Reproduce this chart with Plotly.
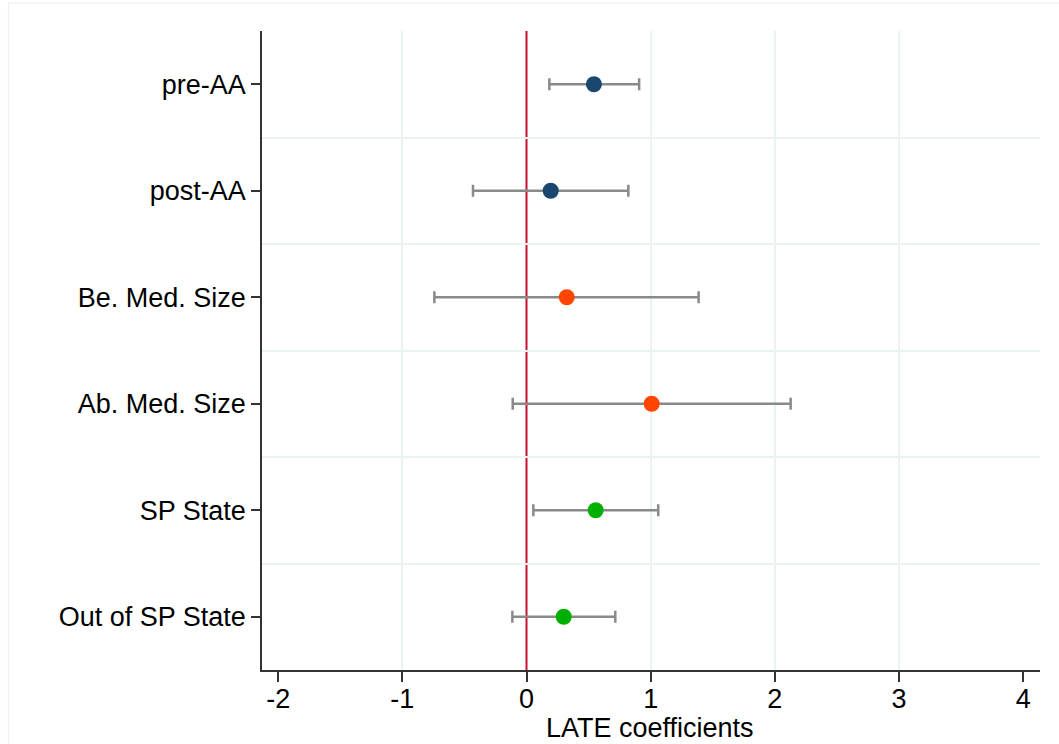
import plotly.graph_objects as go

categories = ["pre-AA", "post-AA", "Be. Med. Size", "Ab. Med. Size", "SP State", "Out of SP State"]
coef = [0.543, 0.195, 0.324, 1.008, 0.557, 0.300]
ci_low = [0.184, -0.431, -0.742, -0.111, 0.055, -0.114]
ci_high = [0.907, 0.820, 1.386, 2.127, 1.061, 0.715]
colors = ["#1a476f", "#1a476f", "#ff4500", "#ff4500", "#00b000", "#00b000"]
x_ticks = [-2, -1, 0, 1, 2, 3, 4]
x_title = "LATE coefficients"

ypos = list(range(len(categories)))

fig = go.Figure()
fig.add_trace(go.Scatter(
    x=coef, y=ypos, mode="markers",
    marker=dict(color=colors, size=16, line=dict(width=0)),
    error_x=dict(type="data", symmetric=False,
                 array=[h - c for h, c in zip(ci_high, coef)],
                 arrayminus=[c - l for c, l in zip(coef, ci_low)],
                 color="#8a8a8a", thickness=2.5, width=6),
    showlegend=False, hoverinfo="skip",
))

font = dict(family="Liberation Sans, Arial, sans-serif", size=27, color="#000000")

fig.update_layout(
    width=1059, height=744,
    margin=dict(l=262, r=19, t=31, b=74),
    paper_bgcolor="white", plot_bgcolor="white",
    font=font,
    xaxis=dict(
        range=[-2.13, 4.135], tickvals=x_ticks, ticktext=[str(v) for v in x_ticks],
        showgrid=False, zeroline=False, automargin=False,
        showline=True, linecolor="#333333", linewidth=1.5,
        ticks="outside", ticklen=10, tickwidth=1.5, tickcolor="#333333",
        minor=dict(tickmode="array", tickvals=[-1, 1, 2, 3], showgrid=True,
                   gridcolor="#eaf2f3", gridwidth=2, ticks=""),
        tickfont=font,
        ticklabelstandoff=-6,
    ),
    yaxis=dict(
        range=[5.5, -0.5], tickvals=ypos, ticktext=categories,
        showgrid=False, zeroline=False, automargin=False,
        showline=True, linecolor="#333333", linewidth=1.5,
        ticks="outside", ticklen=9, tickwidth=1.5, tickcolor="#333333",
        minor=dict(tickmode="array", tickvals=[0.5, 1.5, 2.5, 3.5, 4.5], showgrid=True,
                   gridcolor="#eaf2f3", gridwidth=2, ticks=""),
        tickfont=font,
        ticklabelstandoff=0,
    ),
    annotations=[
        dict(text=x_title, xref="paper", yref="paper", x=0.499, y=-0.0908,
             xanchor="center", yanchor="middle", showarrow=False, font=font),
    ],
    shapes=[
        dict(type="line", xref="x", yref="paper", x0=0, x1=0, y0=0, y1=1,
             line=dict(color="#c8102e", width=2), layer="below"),
        dict(type="rect", xref="paper", yref="paper", x0=-0.326, x1=1.2, y0=-0.3, y1=1.044,
             line=dict(color="#eeeeee", width=1), layer="below"),
    ],
)

fig.write_html("out.html")
